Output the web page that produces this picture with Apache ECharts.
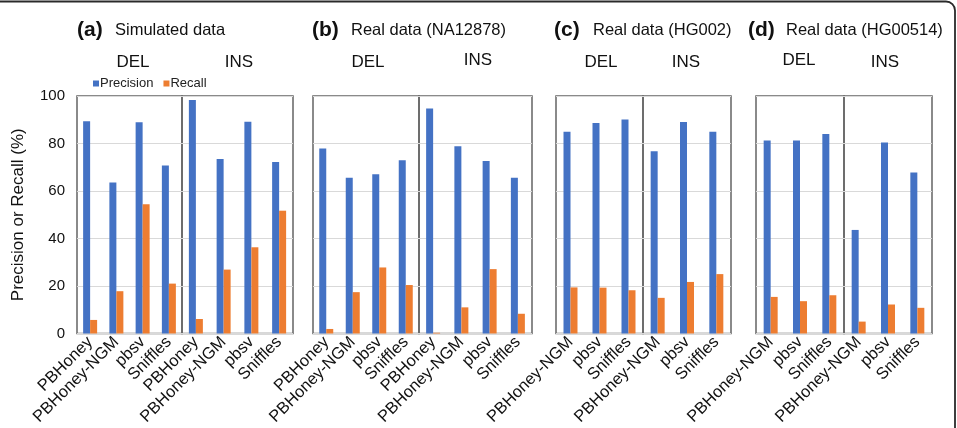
<!DOCTYPE html>
<html>
<head>
<meta charset="utf-8">
<script src="https://cdn.jsdelivr.net/npm/echarts@6/dist/echarts.min.js"></script>
<style>html,body{margin:0;padding:0;background:#fff}#c{width:957px;height:428px}</style>
</head>
<body>
<div id="c"></div>
<script>
// ---- data ----
const cats4 = ['PBHoney', 'PBHoney-NGM', 'pbsv', 'Sniffles'];
const cats3 = ['PBHoney-NGM', 'pbsv', 'Sniffles'];
const yTicks = [0, 20, 40, 60, 80, 100];

const precA_DEL = [89.4, 63.6, 88.9, 70.7];
const recA_DEL  = [5.7, 17.8, 54.4, 21.0];
const precA_INS = [98.3, 73.5, 89.2, 72.2];
const recA_INS  = [6.1, 26.9, 36.3, 51.7];

const precB_DEL = [77.9, 65.6, 67.1, 72.9];
const recB_DEL  = [1.9, 17.4, 27.8, 20.4];
const precB_INS = [94.7, 78.8, 72.6, 65.6];
const recB_INS  = [0.3, 11.0, 27.1, 8.3];

const precC_DEL = [84.9, 88.6, 90.1];
const recC_DEL  = [19.4, 19.3, 18.2];
const precC_INS = [76.7, 89.0, 84.9];
const recC_INS  = [15.0, 21.7, 25.0];

const precD_DEL = [81.3, 81.3, 84.0];
const recD_DEL  = [15.4, 13.6, 16.1];
const precD_INS = [43.6, 80.4, 67.8];
const recD_INS  = [5.0, 12.2, 10.8];

const panels = [
  {cats: cats4, prec: precA_DEL, rec: recA_DEL},
  {cats: cats4, prec: precA_INS, rec: recA_INS},
  {cats: cats4, prec: precB_DEL, rec: recB_DEL},
  {cats: cats4, prec: precB_INS, rec: recB_INS},
  {cats: cats3, prec: precC_DEL, rec: recC_DEL},
  {cats: cats3, prec: precC_INS, rec: recC_INS},
  {cats: cats3, prec: precD_DEL, rec: recD_DEL},
  {cats: cats3, prec: precD_INS, rec: recD_INS}
];

// ---- layout ----
const bounds = [[77,182],[182,293],[313,419],[419,532],[556,643],[643,731],[756,844],[844,932]];
const FONT = 'Liberation Sans, Arial, Helvetica, sans-serif';
const BLUE = '#4472C4', ORANGE = '#ED7D31';

const grid = [], xAxis = [], yAxis = [], series = [];
panels.forEach((p, i) => {
  const [l, r] = bounds[i];
  grid.push({left: l, width: r - l, top: 96, height: 240, show: true,
    borderColor: '#646464', borderWidth: 1.5, backgroundColor: 'transparent', containLabel: false});
  xAxis.push({type: 'category', gridIndex: i, data: p.cats,
    axisLine: {show: false}, axisTick: {show: false},
    axisLabel: {interval: 0, rotate: 45, fontSize: 16.5, color: '#111', fontFamily: FONT, margin: 6}});
  yAxis.push({type: 'value', gridIndex: i, min: yTicks[0], max: yTicks[yTicks.length-1], interval: 20,
    axisLine: {show: false}, axisTick: {show: false},
    splitLine: {show: true, lineStyle: {color: '#d9d9d9', width: 1}},
    axisLabel: {show: i === 0, fontSize: 15, color: '#111', fontFamily: FONT, margin: 12},
    name: i === 0 ? 'Precision or Recall (%)' : '', nameLocation: 'middle', nameGap: 50,
    nameTextStyle: {fontSize: 17, color: '#111', fontFamily: FONT}});
  series.push({type: 'bar', name: 'Precision', xAxisIndex: i, yAxisIndex: i, data: p.prec,
    barWidth: 7, barGap: '0%', itemStyle: {color: BLUE}, silent: true});
  series.push({type: 'bar', name: 'Recall', xAxisIndex: i, yAxisIndex: i, data: p.rec,
    barWidth: 7, barGap: '0%', itemStyle: {color: ORANGE}, silent: true});
});

function txt(x, y, s, size, bold, align) {
  return {type: 'text', x: x, y: y, style: {text: s, fontSize: size, fontWeight: bold ? 'bold' : 'normal',
    fill: '#111', fontFamily: FONT, textAlign: align || 'left', textVerticalAlign: 'middle'}};
}

const graphics = [
  {type: 'rect', shape: {x: -20, y: 1.5, width: 975, height: 460, r: [0, 9, 0, 0]},
   style: {stroke: '#2a2a2a', lineWidth: 1.8, fill: 'transparent'}, z: 10},
  txt(77, 30, '(a)', 21, true), txt(115, 30, 'Simulated data', 16.5, false),
  txt(312, 30, '(b)', 21, true), txt(351, 30, 'Real data (NA12878)', 16.5, false),
  txt(554, 30, '(c)', 21, true), txt(593, 30, 'Real data (HG002)', 16.5, false),
  txt(748, 30, '(d)', 21, true), txt(786, 30, 'Real data (HG00514)', 16.5, false),
  txt(133, 62, 'DEL', 17, false, 'center'), txt(239, 62, 'INS', 17, false, 'center'),
  txt(368, 62, 'DEL', 17, false, 'center'), txt(478, 60, 'INS', 17, false, 'center'),
  txt(601, 62, 'DEL', 17, false, 'center'), txt(686, 62, 'INS', 17, false, 'center'),
  txt(799, 60, 'DEL', 17, false, 'center'), txt(885, 62, 'INS', 17, false, 'center')
];

const chart = echarts.init(document.getElementById('c'), null, {renderer: 'canvas'});
chart.setOption({
  animation: false,
  backgroundColor: '#fff',
  legend: {data: ['Precision', 'Recall'], left: 88, top: 72, icon: 'rect', itemWidth: 6, itemHeight: 6,
    itemGap: 10, textStyle: {fontSize: 13, color: '#222', fontFamily: FONT, padding: [0,0,0,-4]}},
  grid, xAxis, yAxis, series,
  graphic: graphics
});
</script>
</body>
</html>
